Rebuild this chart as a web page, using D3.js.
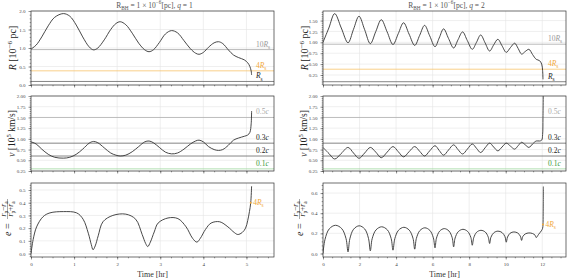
<!DOCTYPE html>
<html>
<head>
<meta charset="utf-8">
<script src="https://cdn.jsdelivr.net/npm/d3@7"></script>
<style>
body { margin: 0; background: #fff; }
svg { display: block; }
text { font-family: "Liberation Serif", serif; }
</style>
</head>
<body>
<svg id="chart"></svg>
<script>
const width = 567
const height = 279

// ---- q = 1 (left column) ----
const q1Time = [0, 0.12, 0.25, 0.4, 0.55, 0.75, 0.9, 1.05, 1.2, 1.35, 1.45, 1.55, 1.7, 1.85, 1.97, 2.07, 2.2, 2.35, 2.5, 2.64, 2.74, 2.84, 2.98, 3.12, 3.26, 3.4, 3.55, 3.7, 3.82, 3.9, 4.0, 4.12, 4.25, 4.35, 4.45, 4.58, 4.7, 4.82, 4.95, 5.03, 5.08, 5.11, 5.12]
const q1R = [0.97, 1.08, 1.3, 1.6, 1.83, 1.93, 1.86, 1.62, 1.3, 1.03, 0.95, 1.0, 1.22, 1.5, 1.66, 1.71, 1.63, 1.4, 1.13, 0.95, 0.90, 0.95, 1.15, 1.38, 1.47, 1.41, 1.2, 0.98, 0.86, 0.83, 0.88, 1.02, 1.14, 1.17, 1.12, 0.95, 0.81, 0.74, 0.68, 0.6, 0.5, 0.38, 0.27]
const q1V = [0.93, 0.88, 0.76, 0.64, 0.57, 0.55, 0.57, 0.64, 0.76, 0.9, 0.94, 0.91, 0.79, 0.67, 0.62, 0.60, 0.62, 0.7, 0.82, 0.93, 0.95, 0.91, 0.8, 0.69, 0.65, 0.67, 0.76, 0.88, 0.95, 0.97, 0.93, 0.82, 0.75, 0.73, 0.75, 0.85, 0.97, 1.02, 1.06, 1.09, 1.15, 1.35, 1.65]
const q1ETime = [0, 0.05, 0.13, 0.28, 0.44, 0.75, 1.06, 1.21, 1.33, 1.40, 1.44, 1.49, 1.56, 1.67, 1.9, 2.2, 2.43, 2.58, 2.66, 2.71, 2.77, 2.86, 2.95, 3.18, 3.41, 3.6, 3.75, 3.85, 3.93, 4.05, 4.18, 4.38, 4.57, 4.72, 4.8, 4.9, 4.98, 5.03, 5.07, 5.1, 5.12]
const q1E = [0, 0.11, 0.21, 0.29, 0.32, 0.33, 0.32, 0.27, 0.16, 0.07, 0.03, 0.06, 0.14, 0.25, 0.30, 0.31, 0.27, 0.15, 0.08, 0.055, 0.09, 0.17, 0.24, 0.28, 0.275, 0.21, 0.12, 0.09, 0.12, 0.19, 0.24, 0.25, 0.21, 0.165, 0.15, 0.165, 0.2, 0.26, 0.33, 0.40, 0.53]

// ---- q = 2 (right column) ----
const q2Time = [0, 0.32, 0.64, 1.0, 1.37, 1.67, 1.97, 2.28, 2.59, 2.89, 3.19, 3.51, 3.83, 4.12, 4.41, 4.71, 5.02, 5.29, 5.56, 5.84, 6.13, 6.36, 6.6, 6.87, 7.15, 7.39, 7.64, 7.9, 8.17, 8.4, 8.63, 8.87, 9.12, 9.34, 9.57, 9.8, 10.03, 10.26, 10.49, 10.68, 10.87, 11.07, 11.27, 11.47, 11.67, 11.85, 11.97, 12.02, 12.04]
const q2R = [1.0, 1.33, 1.66, 1.33, 0.99, 1.30, 1.60, 1.29, 0.97, 1.25, 1.52, 1.24, 0.95, 1.20, 1.45, 1.19, 0.93, 1.16, 1.39, 1.15, 0.90, 1.10, 1.31, 1.09, 0.87, 1.06, 1.24, 1.04, 0.84, 1.0, 1.17, 0.99, 0.80, 0.94, 1.07, 0.92, 0.77, 0.88, 0.98, 0.86, 0.73, 0.79, 0.84, 0.72, 0.61, 0.58, 0.5, 0.35, 0.15]
const q2VTime = [0, 0.32, 0.64, 1.0, 1.37, 1.67, 1.97, 2.28, 2.59, 2.89, 3.19, 3.51, 3.83, 4.12, 4.41, 4.71, 5.02, 5.29, 5.56, 5.84, 6.13, 6.36, 6.6, 6.87, 7.15, 7.39, 7.64, 7.9, 8.17, 8.4, 8.63, 8.87, 9.12, 9.34, 9.57, 9.8, 10.03, 10.26, 10.49, 10.68, 10.87, 11.07, 11.27, 11.47, 11.67, 11.85, 11.97, 12.02, 12.04, 12.06]
const q2V = [0.80, 0.66, 0.53, 0.66, 0.80, 0.67, 0.546, 0.67, 0.80, 0.69, 0.56, 0.69, 0.82, 0.70, 0.58, 0.70, 0.82, 0.71, 0.60, 0.72, 0.84, 0.73, 0.62, 0.74, 0.86, 0.75, 0.647, 0.76, 0.88, 0.78, 0.68, 0.79, 0.90, 0.81, 0.72, 0.81, 0.90, 0.83, 0.76, 0.84, 0.92, 0.86, 0.80, 0.88, 0.95, 0.95, 0.97, 1.1, 1.5, 2.3]
const q2ETime = [0, 0.11, 0.34, 0.685, 1.03, 1.26, 1.37, 1.47, 1.675, 1.98, 2.285, 2.49, 2.59, 2.69, 2.9, 3.21, 3.52, 3.73, 3.83, 3.93, 4.13, 4.425, 4.72, 4.925, 5.02, 5.11, 5.30, 5.575, 5.85, 6.04, 6.13, 6.21, 6.385, 6.64, 6.895, 7.07, 7.15, 7.23, 7.405, 7.66, 7.915, 8.09, 8.17, 8.25, 8.41, 8.645, 8.88, 9.04, 9.12, 9.19, 9.35, 9.575, 9.8, 9.96, 10.03, 10.1, 10.24, 10.45, 10.66, 10.80, 10.87, 10.93, 11.07, 11.27, 11.47, 11.61, 11.67, 11.8, 11.95, 12.02, 12.04, 12.05, 12.06]
const q2E = [0, 0.14, 0.244, 0.28, 0.246, 0.148, 0.016, 0.146, 0.241, 0.275, 0.243, 0.15, 0.026, 0.146, 0.234, 0.265, 0.235, 0.149, 0.033, 0.147, 0.23, 0.26, 0.232, 0.152, 0.043, 0.149, 0.227, 0.255, 0.229, 0.156, 0.056, 0.152, 0.222, 0.247, 0.223, 0.157, 0.066, 0.153, 0.217, 0.24, 0.219, 0.161, 0.082, 0.156, 0.211, 0.23, 0.213, 0.165, 0.099, 0.161, 0.206, 0.222, 0.208, 0.167, 0.112, 0.163, 0.201, 0.214, 0.203, 0.172, 0.13, 0.167, 0.194, 0.204, 0.198, 0.181, 0.158, 0.19, 0.225, 0.25, 0.287, 0.4, 0.665]

// point where R = 4 Rs, marked on the e panel
const dotTime = [5.1, 12.04]
const dotE = [0.40, 0.287]

// reference levels
const Rs = 0.0957
const rLevels = [10 * Rs, 4 * Rs, Rs]
const rLevelNames = ["10", "4", ""]
const cLight = 2.998
const vLevels = [0.5, 0.3, 0.2, 0.1]

// ticks
const xTicksL = [0, 1, 2, 3, 4, 5]
const xTicksR = [0, 2, 4, 6, 8, 10, 12]
const rTicksL = [0, 0.5, 1.0, 1.5, 2.0]
const rTicksR = [0.25, 0.5, 0.75, 1.0, 1.25, 1.5]
const vTicks = [0.25, 0.5, 0.75, 1.0, 1.25, 1.5, 1.75, 2.0]
const eTicksL = [0, 0.1, 0.2, 0.3, 0.4, 0.5]
const eTicksR = [0, 0.2, 0.4, 0.6]

const svg = d3.select("#chart")
    .attr("width", width)
    .attr("height", height)

const cols = [
    { x0: 31, x1: 274, xMax: 5.64, xTicks: xTicksL, xMinor: 0.25, q: "1", off: 0 },
    { x0: 323, x1: 566, xMax: 13.3, xTicks: xTicksR, xMinor: 0.5, q: "2", off: 292 }
]
const rows = [{ y0: 11, y1: 85 }, { y0: 96, y1: 171 }, { y0: 183, y1: 257 }]

let clipCount = 0

// text with sub/superscripts: parts = [[string, "sub"|"sup"|null, italic]]
const rich = (sel, parts, size) => {
    let cur = 0
    parts.forEach(([s, mode, it]) => {
        const off = mode === "sub" ? size * 0.3 : mode === "sup" ? -size * 0.42 : 0
        sel.append("tspan")
            .attr("dy", off - cur)
            .attr("font-size", mode ? size * 0.7 : size)
            .attr("font-style", it ? "italic" : null)
            .text(s)
        cur = off
    })
}

const styleAxis = sel => {
    sel.select(".domain").remove()
    sel.selectAll("line").attr("stroke", "#333").attr("stroke-width", 0.5)
    sel.selectAll("text")
        .attr("font-size", 5)
        .attr("fill", "#444")
        .attr("font-family", "'Liberation Serif', serif")
}

const drawPanel = (col, row, yDomain, yTicks, yMinorStep, yFmt, xLabels) => {
    const x = d3.scaleLinear().domain([0, col.xMax]).range([col.x0, col.x1])
    const y = d3.scaleLinear().domain(yDomain).range([row.y1, row.y0])
    const g = svg.append("g")

    // grid
    g.selectAll(".gx").data(col.xTicks).enter().append("line").attr("class", "gx")
        .attr("x1", d => x(d)).attr("x2", d => x(d))
        .attr("y1", row.y0).attr("y2", row.y1)
        .attr("stroke", "#e4e4e4").attr("stroke-width", 0.6)
    g.selectAll(".gy").data(yTicks).enter().append("line").attr("class", "gy")
        .attr("x1", col.x0).attr("x2", col.x1)
        .attr("y1", d => y(d)).attr("y2", d => y(d))
        .attr("stroke", "#e4e4e4").attr("stroke-width", 0.6)

    const id = "clip" + (clipCount++)
    svg.append("clipPath").attr("id", id).append("rect")
        .attr("x", col.x0).attr("y", row.y0)
        .attr("width", col.x1 - col.x0).attr("height", row.y1 - row.y0)
    const plot = g.append("g").attr("clip-path", `url(#${id})`)

    // axes
    const yMinor = d3.range(Math.ceil(yDomain[0] / yMinorStep) * yMinorStep, yDomain[1], yMinorStep)
    g.append("g").attr("transform", `translate(${col.x0},0)`)
        .call(d3.axisLeft(y).tickValues(yMinor).tickSize(1.3).tickFormat(""))
        .call(styleAxis)
    g.append("g").attr("transform", `translate(${col.x0},0)`)
        .call(d3.axisLeft(y).tickValues(yTicks).tickSize(2.5).tickPadding(3).tickFormat(yFmt))
        .call(styleAxis)
    g.append("g").attr("transform", `translate(0,${row.y1})`)
        .call(d3.axisBottom(x).tickValues(d3.range(0, col.xMax, col.xMinor)).tickSize(1.3).tickFormat(""))
        .call(styleAxis)
    g.append("g").attr("transform", `translate(0,${row.y1})`)
        .call(d3.axisBottom(x).tickValues(col.xTicks).tickSize(2.5).tickPadding(3)
            .tickFormat(xLabels ? d3.format("d") : ""))
        .call(styleAxis)

    return { x, y, g, plot, col, row }
}

const frame = p => {
    p.g.append("rect")
        .attr("x", p.col.x0).attr("y", p.row.y0)
        .attr("width", p.col.x1 - p.col.x0).attr("height", p.row.y1 - p.row.y0)
        .attr("fill", "none").attr("stroke", "#333").attr("stroke-width", 0.7)
}

const hline = (p, value, color, labelParts, labelColor) => {
    p.plot.append("line")
        .attr("x1", p.col.x0).attr("x2", p.col.x1)
        .attr("y1", p.y(value)).attr("y2", p.y(value))
        .attr("stroke", color).attr("stroke-width", 0.8)
    const t = p.g.append("text")
        .attr("x", p.col.x1 - 18).attr("y", p.y(value) - 3)
        .attr("fill", labelColor)
    rich(t, labelParts, 7.5)
}

const curve = (p, xs, ys) => {
    const line = d3.line()
        .x((d, i) => p.x(xs[i]))
        .y(d => p.y(d))
        .curve(d3.curveCatmullRom.alpha(0.5))
    p.plot.append("path").datum(ys)
        .attr("d", line)
        .attr("fill", "none")
        .attr("stroke", "#333")
        .attr("stroke-width", 0.9)
}

const series = [
    { r: [q1Time, q1R], v: [q1Time, q1V], e: [q1ETime, q1E],
      rDom: [0, 2.0], rTicks: rTicksL, rMinor: 0.1, rFmt: d3.format(".1f"),
      eDom: [-0.027, 0.555], eTicks: eTicksL, eMinor: 0.02 },
    { r: [q2Time, q2R], v: [q2VTime, q2V], e: [q2ETime, q2E],
      rDom: [0.02, 1.72], rTicks: rTicksR, rMinor: 0.05, rFmt: d3.format(".2f"),
      eDom: [-0.035, 0.70], eTicks: eTicksR, eMinor: 0.04 }
]

const rColors = ["#a8a8a8", "#f7c46c", "#666"]
const rLabelColors = ["#999", "#f2a93b", "#222"]
const vColors = ["#b0b0b0", "#666", "#666", "#9fd89f"]
const vLabelColors = ["#aaa", "#222", "#222", "#3a9a3a"]

cols.forEach((col, ci) => {
    const s = series[ci]

    // R panel
    const p1 = drawPanel(col, rows[0], s.rDom, s.rTicks, s.rMinor, s.rFmt, false)
    rLevels.forEach((lv, i) => {
        hline(p1, lv, rColors[i], [[rLevelNames[i], null, false], ["R", null, true], ["s", "sub", false]], rLabelColors[i])
    })
    curve(p1, s.r[0], s.r[1])
    frame(p1)

    // v panel
    const p2 = drawPanel(col, rows[1], [0.25, 2.0], vTicks, 0.05, d3.format(".2f"), false)
    vLevels.forEach((lv, i) => {
        hline(p2, lv * cLight, vColors[i], [[String(lv), null, false], ["c", null, true]], vLabelColors[i])
    })
    curve(p2, s.v[0], s.v[1])
    frame(p2)

    // e panel
    const p3 = drawPanel(col, rows[2], s.eDom, s.eTicks, s.eMinor, d3.format(".1f"), true)
    curve(p3, s.e[0], s.e[1])
    p3.g.append("circle")
        .attr("cx", p3.x(dotTime[ci])).attr("cy", p3.y(dotE[ci])).attr("r", 1)
        .attr("fill", "#f2a93b")
    const lt = p3.g.append("text")
        .attr("x", p3.x(dotTime[ci]) + 2.5).attr("y", p3.y(dotE[ci]) + 2.5)
        .attr("fill", "#f2a93b")
    rich(lt, [["4", null, false], ["R", null, true], ["s", "sub", false]], 7.5)
    frame(p3)

    // title
    const title = svg.append("text")
        .attr("x", (col.x0 + col.x1) / 2 + 2).attr("y", 7.5)
        .attr("text-anchor", "middle").attr("fill", "#555")
    rich(title, [["R", null, false], ["BH", "sub", false], [" = 1 × 10", null, false], ["−6", "sup", false],
        ["[pc], ", null, false], ["q", null, true], [" = " + col.q, null, false]], 7.5)

    // y labels
    const yl1 = svg.append("text")
        .attr("transform", `translate(${16 + col.off},${(rows[0].y0 + rows[0].y1) / 2}) rotate(-90)`)
        .attr("text-anchor", "middle").attr("fill", "#222")
    rich(yl1, [["R", null, true], [" [10", null, false], ["−6", "sup", false], [" pc]", null, false]], 10)

    const yl2 = svg.append("text")
        .attr("transform", `translate(${15 + col.off},${(rows[1].y0 + rows[1].y1) / 2}) rotate(-90)`)
        .attr("text-anchor", "middle").attr("fill", "#222")
    rich(yl2, [["v", null, true], [" [10", null, false], ["5", "sup", false], [" km/s]", null, false]], 9.5)

    // e = (rp - ra) / (rp + ra)
    const el = svg.append("g")
        .attr("transform", `translate(${10.5 + col.off},238) rotate(-90)`)
    el.append("text").attr("x", 2).attr("y", 0).attr("fill", "#222")
        .call(t => rich(t, [["e", null, true], [" =", null, false]], 10))
    const fr = el.append("g").attr("transform", "translate(29,-3)")
    fr.append("text").attr("text-anchor", "middle").attr("y", -2).attr("fill", "#222")
        .call(t => rich(t, [["r", null, true], ["p", "sub", false], ["−", null, false], ["r", null, true], ["a", "sub", false]], 7.5))
    fr.append("line").attr("x1", -10).attr("x2", 10).attr("y1", 0).attr("y2", 0)
        .attr("stroke", "#222").attr("stroke-width", 0.4)
    fr.append("text").attr("text-anchor", "middle").attr("y", 5).attr("fill", "#222")
        .call(t => rich(t, [["r", null, true], ["p", "sub", false], ["+", null, false], ["r", null, true], ["a", "sub", false]], 7.5))

    // x label
    svg.append("text")
        .attr("x", (col.x0 + col.x1) / 2).attr("y", 276.5)
        .attr("text-anchor", "middle")
        .attr("font-family", "'Liberation Sans', sans-serif")
        .attr("font-size", 8).attr("fill", "#333")
        .text("Time [hr]")
})
</script>
</body>
</html>
